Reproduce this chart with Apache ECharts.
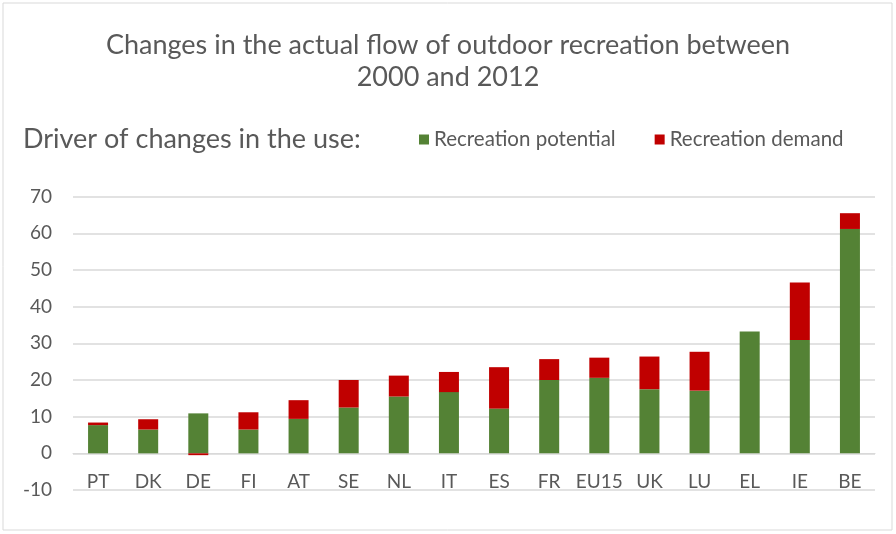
<!DOCTYPE html>
<html>
<head>
<meta charset="utf-8">
<script src="https://cdn.jsdelivr.net/npm/echarts@6/dist/echarts.min.js"></script>
<style>
  html, body { margin: 0; padding: 0; background: #fff; }
  #chart { width: 896px; height: 534px; }
</style>
</head>
<body>
<div id="chart"></div>
<script>
const countries = ['PT', 'DK', 'DE', 'FI', 'AT', 'SE', 'NL', 'IT', 'ES', 'FR', 'EU15', 'UK', 'LU', 'EL', 'IE', 'BE']
const potential = [7.7, 6.5, 10.9, 6.5, 9.4, 12.5, 15.5, 16.7, 12.2, 20.0, 20.6, 17.5, 17.1, 33.2, 30.9, 61.2]
const demand = [0.7, 2.8, -0.5, 4.7, 5.1, 7.5, 5.7, 5.5, 11.3, 5.7, 5.5, 8.9, 10.6, 0, 15.7, 4.3]
const yTicks = { min: -10, max: 70, step: 10 }

const chart = echarts.init(document.getElementById('chart'))
const font = 'Lato, "Open Sans", sans-serif'

chart.setOption({
  animation: false,
  textStyle: { fontFamily: font },
  graphic: [{
    type: 'rect',
    shape: { x: 3, y: 3, width: 889, height: 527 },
    style: { fill: 'none', stroke: '#d9d9d9', lineWidth: 1 }
  }],
  title: [
    {
      text: 'Changes in the actual flow of outdoor recreation between\n2000 and 2012',
      left: 'center',
      top: 24,
      textStyle: { fontFamily: font, fontSize: 27, fontWeight: 'normal', color: '#595959', lineHeight: 32, align: 'center' }
    },
    {
      text: 'Driver of changes in the use:',
      left: 18,
      top: 121,
      textStyle: { fontFamily: font, fontSize: 27, fontWeight: 'normal', color: '#595959' }
    }
  ],
  legend: {
    left: 414,
    top: 124,
    itemWidth: 10,
    itemHeight: 10,
    itemGap: 39,
    icon: 'rect',
    textStyle: { fontFamily: font, fontSize: 20.5, color: '#595959' },
    data: ['Recreation potential', 'Recreation demand']
  },
  grid: { left: 73, right: 21, top: 196.7, bottom: 44 },
  xAxis: {
    type: 'category',
    data: countries,
    axisLine: { onZero: true, lineStyle: { color: '#d9d9d9' } },
    axisTick: { show: false },
    axisLabel: { color: '#595959', fontSize: 19, margin: -18, interval: 0 }
  },
  yAxis: {
    type: 'value',
    min: yTicks.min,
    max: yTicks.max,
    interval: yTicks.step,
    axisLine: { show: false },
    axisTick: { show: false },
    axisLabel: { color: '#595959', fontSize: 19, margin: 21 },
    splitLine: { lineStyle: { color: '#d9d9d9', width: 1.5 } }
  },
  series: [
    {
      name: 'Recreation potential',
      type: 'bar',
      stack: 'total',
      barWidth: 20,
      itemStyle: { color: '#548235' },
      data: potential
    },
    {
      name: 'Recreation demand',
      type: 'bar',
      stack: 'total',
      barWidth: 20,
      itemStyle: { color: '#c00000' },
      data: demand
    }
  ]
})
</script>
</body>
</html>
